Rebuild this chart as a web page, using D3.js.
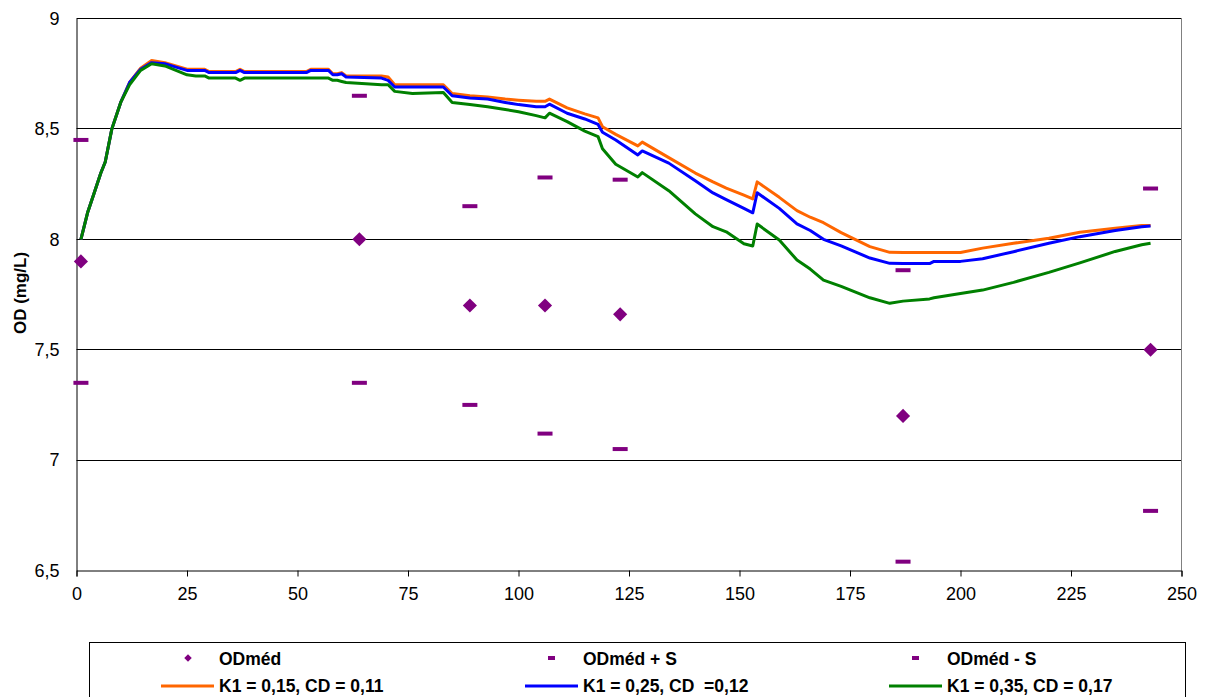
<!DOCTYPE html>
<html>
<head>
<meta charset="utf-8">
<script src="https://cdn.jsdelivr.net/npm/d3@7"></script>
<style>
  body { margin: 0; background: #fff; }
  text { font-family: Arial, "Liberation Sans", sans-serif; }
</style>
</head>
<body>
<div id="chart"></div>
<script>
// measured points
var obsDays = [1, 64, 89, 106, 123, 187, 243];
var odMed   = [7.90, 8.00, 7.70, 7.70, 7.66, 7.20, 7.50];
var odPlus  = [8.45, 8.65, 8.15, 8.28, 8.27, 7.86, 8.23];
var odMinus = [7.35, 7.35, 7.25, 7.12, 7.05, 6.54, 6.77];

// model curves
var days = [1, 2.5, 4, 5.5, 6.5, 8, 10, 12, 14.5, 17, 20, 22.5, 25, 27, 29, 30, 36, 37, 38, 52, 53, 57, 58, 59, 60, 61,
  69, 70.5, 72, 76, 83, 85, 89, 93, 97, 100, 104, 106, 107, 111, 115, 118, 119, 122, 127, 128, 134, 140, 144, 147,
  151, 153, 154, 159, 163, 166, 169, 173, 179.5, 184, 187, 193, 194, 200, 205, 212, 220, 227, 235, 241, 243];
var k15 = [8.00, 8.12, 8.21, 8.30, 8.35, 8.50, 8.62, 8.71, 8.775, 8.81, 8.80, 8.785, 8.77, 8.77, 8.77, 8.76, 8.76, 8.77, 8.76, 8.76, 8.77, 8.77, 8.75, 8.75, 8.755, 8.74,
  8.74, 8.735, 8.70, 8.70, 8.70, 8.66, 8.65, 8.645, 8.635, 8.63, 8.625, 8.625, 8.635, 8.595, 8.568, 8.55, 8.51, 8.475, 8.423, 8.44, 8.37, 8.30, 8.26, 8.232,
  8.20, 8.183, 8.26, 8.19, 8.13, 8.10, 8.075, 8.03, 7.967, 7.941, 7.94, 7.94, 7.94, 7.94, 7.96, 7.982, 8.005, 8.032, 8.05, 8.062, 8.062];
var k25 = [8.00, 8.12, 8.21, 8.30, 8.35, 8.50, 8.62, 8.71, 8.77, 8.80, 8.795, 8.78, 8.765, 8.765, 8.765, 8.755, 8.755, 8.765, 8.755, 8.755, 8.765, 8.765, 8.745, 8.745, 8.75, 8.735,
  8.73, 8.72, 8.69, 8.69, 8.69, 8.65, 8.64, 8.635, 8.62, 8.61, 8.60, 8.60, 8.612, 8.571, 8.545, 8.52, 8.485, 8.45, 8.382, 8.40, 8.345, 8.265, 8.21, 8.18,
  8.14, 8.12, 8.211, 8.14, 8.07, 8.04, 8.00, 7.97, 7.915, 7.891, 7.89, 7.89, 7.90, 7.90, 7.912, 7.944, 7.982, 8.012, 8.04, 8.057, 8.06];
var k35 = [8.00, 8.12, 8.21, 8.30, 8.35, 8.50, 8.62, 8.70, 8.765, 8.795, 8.785, 8.765, 8.745, 8.74, 8.74, 8.73, 8.73, 8.72, 8.73, 8.73, 8.73, 8.73, 8.72, 8.72, 8.715, 8.71,
  8.70, 8.70, 8.67, 8.66, 8.665, 8.62, 8.61, 8.60, 8.588, 8.578, 8.56, 8.55, 8.571, 8.533, 8.49, 8.465, 8.41, 8.34, 8.282, 8.302, 8.22, 8.115, 8.057, 8.034,
  7.98, 7.97, 8.069, 7.997, 7.906, 7.865, 7.815, 7.787, 7.735, 7.71, 7.72, 7.73, 7.735, 7.755, 7.77, 7.805, 7.85, 7.893, 7.945, 7.975, 7.982];

var xTicks = [0, 25, 50, 75, 100, 125, 150, 175, 200, 225, 250];
var yTicks = [6.5, 7, 7.5, 8, 8.5, 9];

var lineNames = ["K1 = 0,15, CD = 0,11", "K1 = 0,25, CD  =0,12", "K1 = 0,35, CD = 0,17"];
var pointNames = ["ODméd", "ODméd + S", "ODméd - S"];
var lineColors = ["#ff6600", "#0000ff", "#008000"];
var purple = "#800080";

var W = 1205, H = 697;
var svg = d3.select("#chart").append("svg")
    .attr("width", W)
    .attr("height", H);

var x = d3.scaleLinear().domain([0, 250]).range([76.5, 1181.5]);
var y = d3.scaleLinear().domain([6.5, 9]).range([570.5, 18.5]);

// gridlines
svg.append("g")
  .selectAll("line")
  .data(yTicks.filter(function(d){ return d > 6.5; }))
  .enter().append("line")
    .attr("x1", x(0)).attr("x2", x(250))
    .attr("y1", function(d){ return Math.round(y(d) - 0.5) + 0.5; })
    .attr("y2", function(d){ return Math.round(y(d) - 0.5) + 0.5; })
    .attr("stroke", "#000")
    .attr("stroke-width", 1);

// right border
svg.append("line")
    .attr("x1", 1181.5).attr("x2", 1181.5)
    .attr("y1", y(9)).attr("y2", y(6.5))
    .attr("stroke", "#808080");

// axes
var xAxis = svg.append("g")
    .attr("transform", "translate(0,570.5)")
    .call(d3.axisBottom(x).tickValues(xTicks).tickFormat(d3.format("d")).tickSizeOuter(0).tickSize(6).tickPadding(11));
var yAxis = svg.append("g")
    .attr("transform", "translate(76.5,0)")
    .call(d3.axisLeft(y).tickValues(yTicks)
      .tickFormat(function(d){ return String(d).replace(".", ","); })
      .tickSize(0).tickPadding(17));
[xAxis, yAxis].forEach(function(a){
  a.select(".domain").attr("stroke", "#000");
  a.selectAll("line").attr("stroke", "#000");
  a.selectAll("text").style("font-size", "18px").attr("fill", "#000")
    .style("font-family", "Arial, 'Liberation Sans', sans-serif");
});

svg.append("text")
    .attr("transform", "translate(26,293) rotate(-90)")
    .attr("text-anchor", "middle")
    .style("font-size", "17px")
    .style("font-weight", "bold")
    .text("OD (mg/L)");

// measured series
var diamond = d3.symbol().type(d3.symbolSquare).size(100);
svg.append("g").selectAll("path")
  .data(obsDays)
  .enter().append("path")
    .attr("d", diamond)
    .attr("transform", function(d, i){ return "translate(" + x(d) + "," + y(odMed[i]) + ") rotate(45)"; })
    .attr("fill", purple);

[odPlus, odMinus].forEach(function(vals){
  svg.append("g").selectAll("rect")
    .data(obsDays)
    .enter().append("rect")
      .attr("x", function(d){ return x(d) - 7.5; })
      .attr("y", function(d, i){ return y(vals[i]) - 2; })
      .attr("width", 15)
      .attr("height", 4)
      .attr("fill", purple);
});

// model curves
var line = d3.line()
    .x(function(d){ return x(d[0]); })
    .y(function(d){ return y(d[1]); });
[k15, k25, k35].forEach(function(vals, i){
  svg.append("path")
    .datum(days.map(function(d, j){ return [d, vals[j]]; }))
    .attr("d", line)
    .attr("fill", "none")
    .attr("stroke", lineColors[i])
    .attr("stroke-width", 3)
    .attr("stroke-linejoin", "round");
});

// legend
var leg = svg.append("g");
leg.append("rect")
    .attr("x", 89.5).attr("y", 642.5)
    .attr("width", 1096).attr("height", 80)
    .attr("fill", "#fff")
    .attr("stroke", "#000");

var colX = [219, 583, 947];
colX.forEach(function(cx, i){
  if (i == 0) {
    leg.append("path")
      .attr("d", d3.symbol().type(d3.symbolSquare).size(28))
      .attr("transform", "translate(" + (cx - 31) + ",658) rotate(45)")
      .attr("fill", purple);
  } else {
    leg.append("rect")
      .attr("x", cx - 35).attr("y", 656)
      .attr("width", 7).attr("height", 4)
      .attr("fill", purple);
  }
  leg.append("text")
    .attr("x", cx).attr("y", 665)
    .style("font-size", "17.5px").style("font-weight", "bold")
    .text(pointNames[i]);

  leg.append("line")
    .attr("x1", cx - 58).attr("x2", cx - 5)
    .attr("y1", 686).attr("y2", 686)
    .attr("stroke", lineColors[i])
    .attr("stroke-width", 3);
  leg.append("text")
    .attr("x", cx).attr("y", 692)
    .style("font-size", "17.5px").style("font-weight", "bold")
    .style("white-space", "pre")
    .text(lineNames[i]);
});
</script>
</body>
</html>
